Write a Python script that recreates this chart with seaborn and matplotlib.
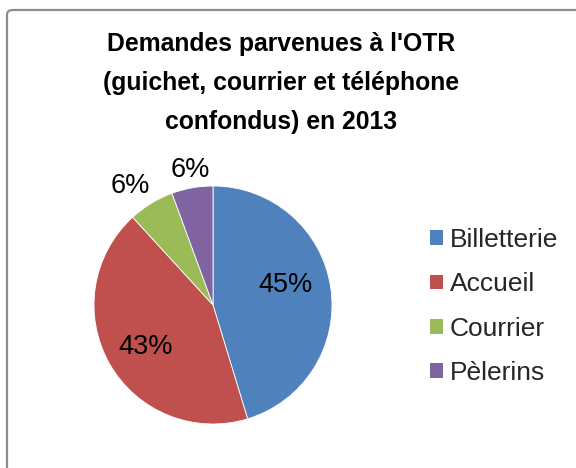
import numpy as np
import matplotlib
matplotlib.use("Agg")
import matplotlib.pyplot as plt
import seaborn as sns
from matplotlib.patches import FancyBboxPatch

categories = ["Billetterie", "Accueil", "Courrier", "Pèlerins"]
values = [45.3, 42.9, 6.2, 5.6]
colors = ["#4F81BD", "#C0504D", "#9BBB59", "#8064A2"]
title = "Demandes parvenues à l'OTR\n(guichet, courrier et téléphone\nconfondus) en 2013"

sns.set_theme(style="white")
plt.rcParams["font.family"] = ["Liberation Sans", "DejaVu Sans"]

W, H = 576, 468
fig = plt.figure(figsize=(W / 100, H / 100), dpi=100)
fig.patch.set_facecolor("white")

# border (only top/left visible)
fig.add_artist(FancyBboxPatch((7 / W, -0.2), 1.2, (H - 10) / H + 0.2,
                              boxstyle="round,pad=0,rounding_size=0.01",
                              transform=fig.transFigure, fill=False,
                              edgecolor="#8C8C8C", linewidth=1.6, clip_on=False))

cx, cy, r = 213, 305, 119
ax = fig.add_axes([(cx - r) / W, (H - cy - r) / H, 2 * r / W, 2 * r / H])
pal = sns.color_palette(colors)
wedges, texts, autotexts = ax.pie(values, colors=pal, startangle=90, counterclock=False,
                                  autopct=lambda p: f"{p:.0f}%", pctdistance=0.66,
                                  wedgeprops=dict(edgecolor="white", linewidth=0.6),
                                  textprops=dict(fontsize=19.5, color="black"))
ax.set_xlim(-1, 1)
ax.set_ylim(-1, 1)
ax.set_aspect("equal")

# label placement (Excel "best fit": small slices outside)
for w, t, dist, dang in zip(wedges, autotexts, [0.63, 0.67, 1.22, 1.15], [7, 2, 3.5, -0.7]):
    ang = np.deg2rad((w.theta1 + w.theta2) / 2 + dang)
    t.set_position((dist * np.cos(ang), dist * np.sin(ang)))

fig.text(281 / W, 1 - 32 / H, title, ha="center", va="top", fontsize=17.8,
         fontweight="bold", linespacing=1.78, color="black")

leg = fig.legend(wedges, categories, loc="upper left",
                 bbox_to_anchor=(430 / W, 1 - 228 / H), frameon=False,
                 borderaxespad=0, borderpad=0,
                 fontsize=19, handlelength=0.49, handleheight=0.49,
                 handletextpad=0.27, labelspacing=0.77)
for h in leg.legend_handles:
    h.set_edgecolor("none")

fig.savefig("out.png", dpi=100, facecolor="white")
